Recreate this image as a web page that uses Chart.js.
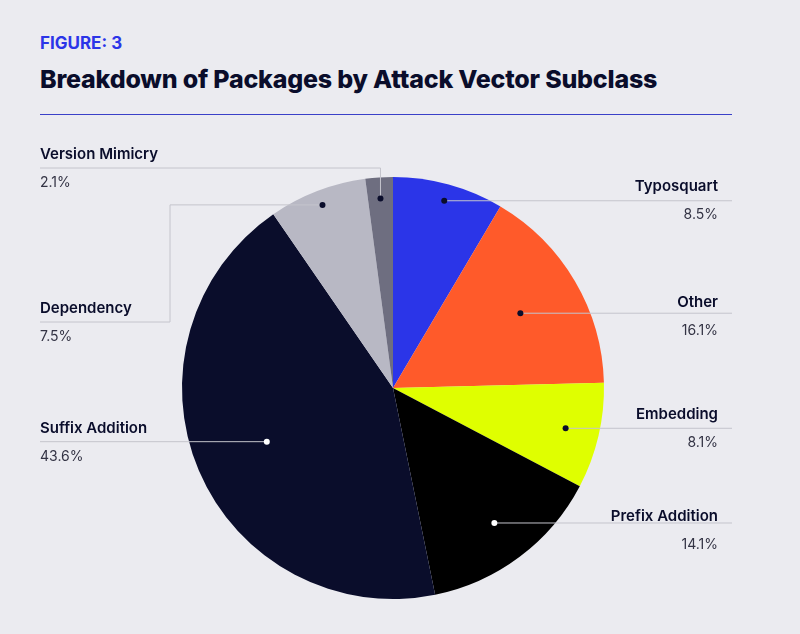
<!DOCTYPE html>
<html><head><meta charset="utf-8">
<script src="https://cdn.jsdelivr.net/npm/chart.js@4"></script>
<style>
body{margin:0;background:#ebebf0;width:800px;height:634px;overflow:hidden;font-family:Inter,"Noto Sans",sans-serif;}
#fig{position:absolute;left:40px;top:33px;color:#2b35e8;font-weight:700;font-size:17px;}
#title{position:absolute;left:40px;top:64px;color:#0a0d2b;font-weight:800;font-size:25px;letter-spacing:-0.2px;}
#rule{position:absolute;left:40px;top:114px;width:692px;height:1px;background:#3a40c8;}
#wrap{position:absolute;left:0;top:0;width:800px;height:634px;}
</style></head><body>
<div id="fig">FIGURE: 3</div>
<div id="title">Breakdown of Packages by Attack Vector Subclass</div>
<div id="rule"></div>
<div id="wrap"><canvas id="c" width="800" height="634"></canvas></div>
<script>
const categories=["Typosquart","Other","Embedding","Prefix Addition","Suffix Addition","Dependency","Version Mimicry"];
const values=[8.5,16.1,8.1,14.1,43.6,7.5,2.1];
const valueLabels=["8.5%","16.1%","8.1%","14.1%","43.6%","7.5%","2.1%"];
const colors=["#2b35e8","#ff5a2a","#dfff00","#000000","#0a0d2b","#b8b8c4","#6e6e80"];
// label layout: radial fraction of dot, side, y of leader line, optional elbow
const layout=[
 {f:0.92,side:'r',y:200},{f:0.7,side:'r',y:316},{f:0.84,side:'r',y:428},{f:0.8,side:'r',y:530},
 {f:0.65,side:'l',y:466},{f:0.93,side:'l',y:322,elbowX:170},{f:0.9,side:'l',y:168,up:true}
];
const labels={id:'lbl',afterDraw(ch){
 const g=ch.ctx, meta=ch.getDatasetMeta(0);
 meta.data.forEach((a,i)=>{
  const L=layout[i], mid=(a.startAngle+a.endAngle)/2, r=a.outerRadius*L.f;
  const x=a.x+Math.cos(mid)*r, y=a.y+Math.sin(mid)*r;
  g.save();g.strokeStyle='#c4c4cc';g.lineWidth=1;g.beginPath();
  if(L.side==='r'){g.moveTo(x,y);g.lineTo(732,y);}
  else if(L.up){g.moveTo(x,y);g.lineTo(x,L.y);g.lineTo(40,L.y);}
  else if(L.elbowX){g.moveTo(x,y);g.lineTo(L.elbowX,y);g.lineTo(L.elbowX,L.y);g.lineTo(40,L.y);}
  else{g.moveTo(x,y);g.lineTo(40,y);}
  g.stroke();
  g.fillStyle=(i===3||i===4)?'#ffffff':'#0a0d2b';
  g.beginPath();g.arc(x,y,3,0,Math.PI*2);g.fill();
  const ly=L.side==='r'||L.up||L.elbowX?L.y:y;
  g.fillStyle='#0a0d2b';g.textAlign=L.side==='r'?'right':'left';
  const tx=L.side==='r'?718:40;
  g.font='600 15px Inter, sans-serif';g.textBaseline='bottom';g.fillText(categories[i],tx,ly-6);
  g.font='400 14px Inter, sans-serif';g.fillStyle='#333344';g.textBaseline='top';g.fillText(valueLabels[i],tx,ly+8);
  g.restore();
 });
}};
new Chart(document.getElementById('c'),{type:'pie',
 data:{labels:categories,datasets:[{data:values,backgroundColor:colors,borderWidth:0}]},
 options:{responsive:false,animation:false,layout:{padding:{top:176,bottom:34,left:182,right:196}},
  plugins:{legend:{display:false},tooltip:{enabled:false}}},
 plugins:[labels]});
</script></body></html>
